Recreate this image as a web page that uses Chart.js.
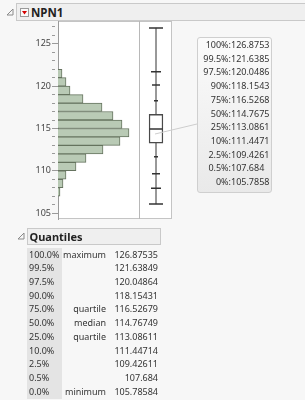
<!DOCTYPE html>
<html>
<head>
<meta charset="utf-8">
<script src="https://cdn.jsdelivr.net/npm/chart.js@4/dist/chart.umd.min.js"></script>
<style>
  body { margin: 0; background: #f7f7f7; font-family: "Noto Sans", sans-serif; color: #222; }
  #page { position: relative; width: 305px; height: 400px; overflow: hidden; }
  .abs { position: absolute; }
  .hdr { position: absolute; background: #efefef; border: 1px solid #c9c9c9; box-sizing: border-box; font-weight: bold; font-size: 11.5px; line-height: 15px; }
  #frame { left: 58px; top: 21px; width: 114px; height: 198px; background: #fff; border: 1px solid #c4c4c4; box-sizing: border-box; }
  #divider { left: 139px; top: 21px; width: 1px; height: 198px; background: #b8b8b8; }
  #callout { left: 197px; top: 37px; width: 75px; height: 156px; box-sizing: border-box; border: 1px solid #cfcfcf; border-radius: 3px;
    background: linear-gradient(#fbfbfb, #e9e9e9); font-size: 9px; color: #333; }
  #callout div { height: 13.72px; line-height: 13.72px; white-space: nowrap; }
  #callout span.l { display: inline-block; width: 33px; text-align: right; }
  #qtab { left: 27px; top: 247.5px; font-size: 9px; color: #333; }
  #qtab .row { position: relative; height: 13.74px; line-height: 13.74px; width: 135px; }
  #qtab .c1 { position: absolute; left: 0; width: 35px; padding-left: 2px; box-sizing: border-box; background: #e4e4e4; height: 100%; }
  #qtab .c2 { position: absolute; right: 56px; }
  #qtab .c3 { position: absolute; right: 4px; }
</style>
</head>
<body>
<div id="page">
  <svg class="abs" style="left:0;top:0" width="305" height="400">
    <polygon points="13,9 13,15 7,15" fill="none" stroke="#8a8a8a" stroke-width="1"/>
    <polygon points="24,233 24,239 18,239" fill="none" stroke="#8a8a8a" stroke-width="1"/>
  </svg>
  <div class="hdr" style="left:16px;top:3px;width:295px;height:18px;">
    <svg class="abs" style="left:3px;top:4px" width="9" height="9">
      <rect x="0.5" y="0.5" width="8" height="8" fill="#fafafa" stroke="#9a9a9a"/>
      <polygon points="2,3 7,3 4.5,6.5" fill="#d40000"/>
    </svg>
    <span class="abs" style="left:14px;top:0.5px;">NPN1</span>
  </div>
  <div id="frame" class="abs"></div>
  <div id="divider" class="abs"></div>
  <div class="abs" style="left:0;top:0;"><canvas id="hist" width="140" height="225"></canvas></div>
  <div class="abs" style="left:140px;top:0;"><canvas id="box" width="32" height="225"></canvas></div>
  <svg class="abs" style="left:0;top:0" width="305" height="400">
    <line x1="155" y1="134" x2="197" y2="124" stroke="#cdcdcd" stroke-width="1"/>
  </svg>
  <div id="callout" class="abs"></div>
  <div class="hdr" style="left:26.5px;top:228px;width:134px;height:17px;">
    <span class="abs" style="left:2px;top:0px;font-size:11px;">Quantiles</span>
  </div>
  <div id="qtab" class="abs"></div>
</div>
<script>
// histogram bins (lower edge) and counts
const binStarts = [107, 108, 109, 110, 111, 112, 113, 114, 115, 116, 117, 118, 119, 120, 121];
const binCounts = [2, 5, 8, 18, 28, 45, 62, 71, 64, 55, 44, 25, 12, 8, 4];

const yMin = 104.3, yMax = 127.7;
const countMax = 81;

// quantiles
const quantileLevels = ['100.0%', '99.5%', '97.5%', '90.0%', '75.0%', '50.0%', '25.0%', '10.0%', '2.5%', '0.5%', '0.0%'];
const quantileNames = ['maximum', '', '', '', 'quartile', 'median', 'quartile', '', '', '', 'minimum'];
const quantileValues = [126.87535, 121.63849, 120.04864, 118.15431, 116.52679, 114.76749, 113.08611, 111.44714, 109.42611, 107.684, 105.78584];

const calloutLabels = ['100%', '99.5%', '97.5%', '90%', '75%', '50%', '25%', '10%', '2.5%', '0.5%', '0%'];
const calloutValues = [126.8753, 121.6385, 120.0486, 118.1543, 116.5268, 114.7675, 113.0861, 111.4471, 109.4261, 107.684, 105.7858];

// half-length of the quantile tick marks on the box plot (index matches quantiles)
const tickHalfLen = [7, 5, 4, 2, 0, 6.5, 0, 2, 4, 5, 7];

const histData = binStarts.map((b, i) => ({ x: binCounts[i], y: b + 0.5 }));

new Chart(document.getElementById('hist'), {
  type: 'bar',
  data: {
    datasets: [{
      data: histData,
      backgroundColor: '#b9cab5',
      borderColor: '#66735f',
      borderWidth: 1,
      barPercentage: 1,
      categoryPercentage: 1,
    }],
  },
  options: {
    responsive: false,
    animation: false,
    indexAxis: 'y',
    layout: { padding: { top: 21, bottom: 6, right: 1, left: 0 } },
    plugins: { legend: { display: false }, tooltip: { enabled: false } },
    scales: {
      x: { type: 'linear', min: 0, max: countMax, display: false },
      y: {
        type: 'linear',
        min: yMin,
        max: yMax,
        offset: false,
        afterFit: (s) => { s.width = 58; s.paddingTop = 0; s.paddingBottom = 0; },
        afterBuildTicks: (s) => {
          s.ticks = s.ticks.filter((t) => Number.isInteger(t.value) && t.value >= yMin && t.value <= yMax);
        },
        ticks: {
          stepSize: 1,
          includeBounds: false,
          autoSkip: false,
          padding: 1,
          color: '#444',
          font: { family: 'Noto Sans', size: 9 },
          callback: (v) => (v % 5 === 0 ? String(v) : ''),
        },
        grid: {
          offset: false,
          drawOnChartArea: false,
          tickLength: 6,
          tickColor: '#9a9a9a',
          tickBorderDash: (ctx) => (ctx.tick && ctx.tick.value % 5 === 0 ? [] : [3, 10]),
        },
        border: { color: '#9a9a9a' },
      },
    },
  },
});

const qMax = quantileValues[0], qMin = quantileValues[10];
const q75 = quantileValues[4], q25 = quantileValues[6];
const tickPts = [];
const tickRadius = [];
quantileValues.forEach((v, i) => {
  if (tickHalfLen[i] > 0) { tickPts.push({ x: 0, y: v }); tickRadius.push(tickHalfLen[i]); }
});

new Chart(document.getElementById('box'), {
  type: 'bar',
  data: {
    datasets: [
      {
        type: 'line',
        data: [{ x: 0, y: qMin }, { x: 0, y: qMax }],
        borderColor: '#333',
        borderWidth: 1,
        pointRadius: 0,
        order: 2,
      },
      {
        type: 'bar',
        data: [{ x: 0, y: [q25, q75] }],
        backgroundColor: '#ffffff',
        borderColor: '#4a4a4a',
        borderWidth: 1.5,
        borderSkipped: false,
        barThickness: 14,
        order: 1,
      },
      {
        type: 'scatter',
        data: tickPts,
        pointStyle: 'line',
        pointRadius: tickRadius,
        borderColor: '#333',
        borderWidth: 1.5,
        order: 0,
      },
    ],
  },
  options: {
    responsive: false,
    animation: false,
    layout: { padding: { top: 21, bottom: 6, left: 0, right: 0 } },
    plugins: { legend: { display: false }, tooltip: { enabled: false } },
    scales: {
      x: { type: 'linear', min: -1, max: 1, offset: false, display: false },
      y: { type: 'linear', min: yMin, max: yMax, display: false },
    },
  },
});

// callout with quantile values
const callout = document.getElementById('callout');
calloutLabels.forEach((lab, i) => {
  const d = document.createElement('div');
  d.innerHTML = '<span class="l">' + lab + ':</span>' + String(calloutValues[i]);
  callout.appendChild(d);
});

// quantiles table
const qtab = document.getElementById('qtab');
quantileLevels.forEach((lev, i) => {
  const r = document.createElement('div');
  r.className = 'row';
  r.innerHTML = '<span class="c1">' + lev + '</span><span class="c2">' + quantileNames[i] +
    '</span><span class="c3">' + String(quantileValues[i]) + '</span>';
  qtab.appendChild(r);
});
</script>
</body>
</html>
